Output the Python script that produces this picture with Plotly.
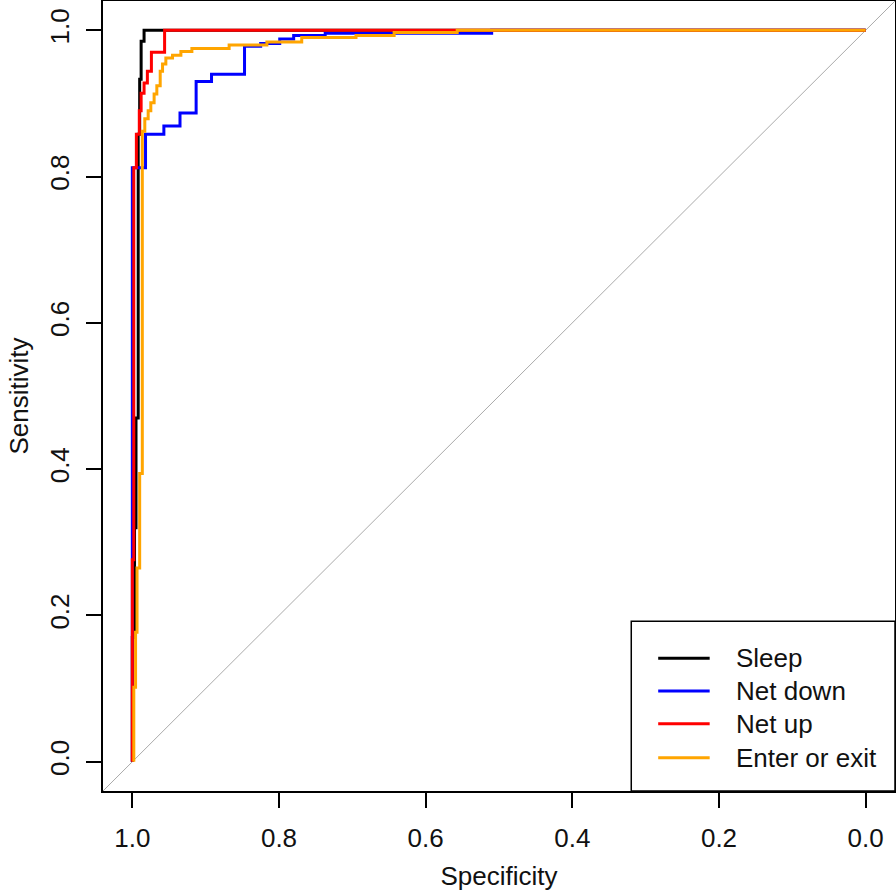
import plotly.graph_objects as go

# ---- data (specificity, sensitivity vertices) ----
series_names = ["Sleep", "Net down", "Net up", "Enter or exit"]
series_colors = ["black", "blue", "red", "orange"]

sleep_spec = [1.0, 1.0, 0.997, 0.997, 0.995, 0.995, 0.992, 0.992, 0.990, 0.990, 0.988, 0.988, 0.984, 0.984, 0.0]
sleep_sens = [0.0, 0.17, 0.17, 0.32, 0.32, 0.47, 0.47, 0.858, 0.858, 0.933, 0.933, 0.985, 0.985, 1.0, 1.0]

netdown_spec = [1.0, 1.0, 0.982, 0.982, 0.957, 0.957, 0.935, 0.935, 0.913, 0.913, 0.892, 0.892,
                0.847, 0.847, 0.825, 0.825, 0.799, 0.799, 0.780, 0.780, 0.737, 0.737, 0.510, 0.510, 0.0]
netdown_sens = [0.0, 0.812, 0.812, 0.858, 0.858, 0.869, 0.869, 0.887, 0.887, 0.930, 0.930, 0.940,
                0.940, 0.978, 0.978, 0.982, 0.982, 0.988, 0.988, 0.993, 0.993, 0.996, 0.996, 1.0, 1.0]

netup_spec = [1.0, 1.0, 0.998, 0.998, 0.9945, 0.9945, 0.9905, 0.9905, 0.988, 0.988, 0.984, 0.984,
              0.9795, 0.9795, 0.974, 0.974, 0.956, 0.956, 0.0]
netup_sens = [0.0, 0.276, 0.276, 0.812, 0.812, 0.858, 0.858, 0.890, 0.890, 0.914, 0.914, 0.928,
              0.928, 0.944, 0.944, 0.970, 0.970, 1.0, 1.0]

enter_spec = [0.998, 0.998, 0.9956, 0.9956, 0.9936, 0.9936, 0.990, 0.990, 0.9864, 0.9864, 0.983, 0.983,
              0.9784, 0.9784, 0.9748, 0.9748, 0.9703, 0.9703, 0.9666, 0.9666, 0.962, 0.962, 0.9588, 0.9588,
              0.9543, 0.9543, 0.9452, 0.9452, 0.9338, 0.9338, 0.9188, 0.9188, 0.868, 0.868, 0.8165, 0.8165,
              0.769, 0.769, 0.695, 0.695, 0.643, 0.643, 0.557, 0.557, 0.0]
enter_sens = [0.0, 0.102, 0.102, 0.177, 0.177, 0.265, 0.265, 0.394, 0.394, 0.862, 0.862, 0.879,
              0.879, 0.890, 0.890, 0.901, 0.901, 0.913, 0.913, 0.924, 0.924, 0.944, 0.944, 0.954,
              0.954, 0.962, 0.962, 0.966, 0.966, 0.971, 0.971, 0.975, 0.975, 0.980, 0.980, 0.984,
              0.984, 0.990, 0.990, 0.993, 0.993, 0.997, 0.997, 1.0, 1.0]

tick_vals = [0.0, 0.2, 0.4, 0.6, 0.8, 1.0]
tick_text = ["0.0", "0.2", "0.4", "0.6", "0.8", "1.0"]
diag_spec = [1.04, -0.04]
diag_sens = [-0.04, 1.04]

series = [(sleep_spec, sleep_sens), (netdown_spec, netdown_sens),
          (netup_spec, netup_sens), (enter_spec, enter_sens)]

FONT = "Liberation Sans, Arial, sans-serif"
TXT = "#111111"

fig = go.Figure()
fig.add_trace(go.Scatter(x=diag_spec, y=diag_sens, mode="lines",
                         line=dict(color="#aaaaaa", width=1), showlegend=False,
                         hoverinfo="skip"))
for name, color, (sx, sy) in zip(series_names, series_colors, series):
    fig.add_trace(go.Scatter(x=sx, y=sy, mode="lines", name=name, showlegend=False,
                             line=dict(color=color, width=3)))

axis_common = dict(
    showgrid=False, zeroline=False, showline=True, linecolor="black", linewidth=1.5,
    mirror=True, ticks="outside", ticklen=15, tickwidth=1.5, tickcolor="black",
    tickvals=tick_vals, ticktext=tick_text, automargin=False,
    tickfont=dict(family=FONT, size=26, color=TXT),
)
fig.update_xaxes(range=[1.04, -0.04], ticklabelstandoff=8,
                 title=dict(text="Specificity", font=dict(family=FONT, size=26, color=TXT),
                            standoff=15),
                 **axis_common)
fig.update_yaxes(range=[-0.04, 1.04], tickangle=-90, ticklabelstandoff=7,
                 title=dict(text="Sensitivity", font=dict(family=FONT, size=26, color=TXT),
                            standoff=9),
                 **axis_common)

# ---- legend box (drawn like R's legend) ----
leg_x0, leg_x1, leg_y0, leg_y1 = 0.667, 1.0, 0.0, 0.215
line_x0, line_x1, text_x = 0.701, 0.766, 0.797
row_y = [0.168, 0.1265, 0.085, 0.042]
fig.add_shape(type="rect", xref="paper", yref="paper", x0=leg_x0, x1=leg_x1, y0=leg_y0, y1=leg_y1,
              line=dict(color="black", width=1.5), fillcolor="white", layer="above")
for name, color, yy in zip(series_names, series_colors, row_y):
    fig.add_shape(type="line", xref="paper", yref="paper", x0=line_x0, x1=line_x1, y0=yy, y1=yy,
                  line=dict(color=color, width=3), layer="above")
    fig.add_annotation(xref="paper", yref="paper", x=text_x, y=yy, text=name, showarrow=False,
                       xanchor="left", yanchor="middle",
                       font=dict(family=FONT, size=26, color=TXT))

fig.update_layout(
    width=896, height=893,
    margin=dict(l=103, r=1, t=1, b=102),
    plot_bgcolor="white", paper_bgcolor="white",
    font=dict(family=FONT, size=26, color=TXT),
    showlegend=False,
)

fig.write_html("out.html", config={"displayModeBar": False},
               post_script="document.body.style.margin='0px';document.body.style.padding='0px';")
